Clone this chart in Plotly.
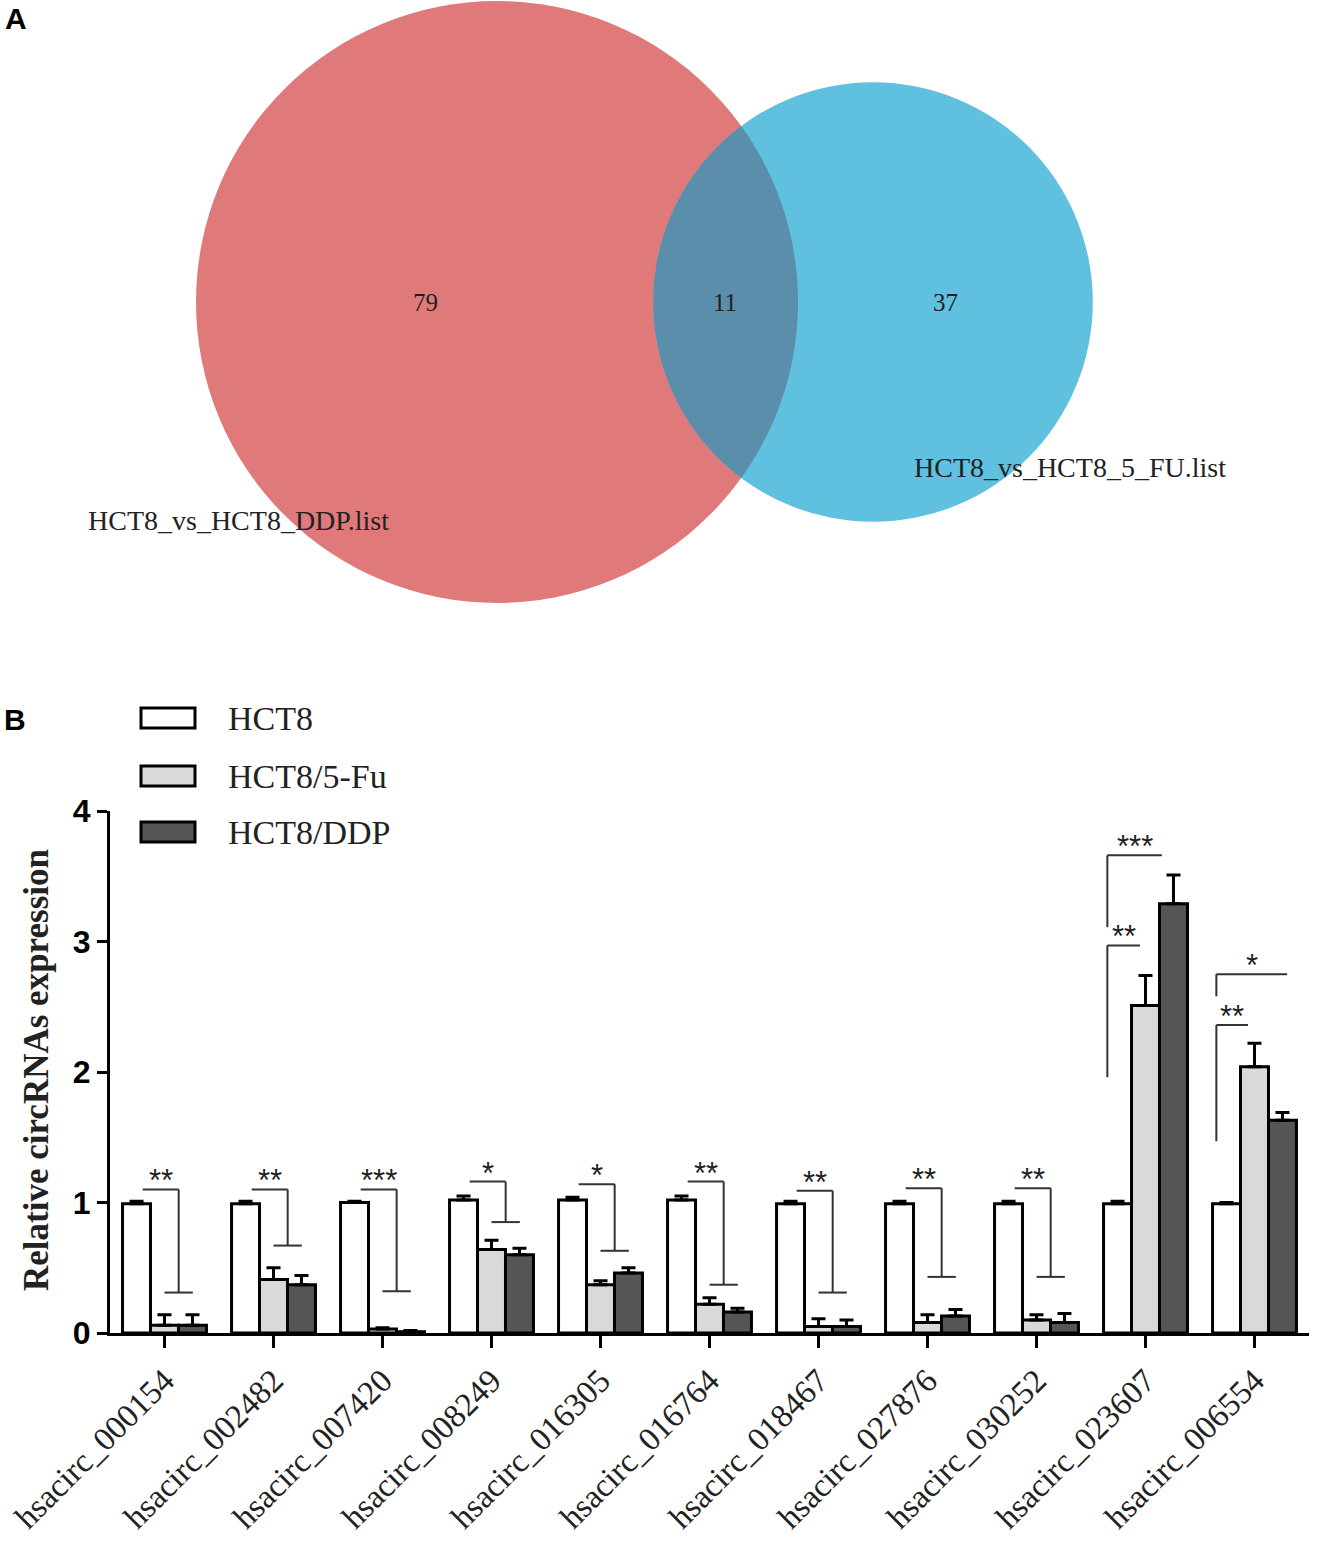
"""Venn overlap of circRNA lists (A) and qPCR validation bar chart (B)."""

import numpy as np
import plotly.graph_objects as go

W, H = 1328, 1547

# ---- Panel A data: Venn counts
venn_sets = ["HCT8_vs_HCT8_DDP.list", "HCT8_vs_HCT8_5_FU.list"]
only_ddp = 79
shared = 11
only_5fu = 37

# ---- Panel B data
circ_ids = [
    "hsacirc_000154", "hsacirc_002482", "hsacirc_007420", "hsacirc_008249",
    "hsacirc_016305", "hsacirc_016764", "hsacirc_018467", "hsacirc_027876",
    "hsacirc_030252", "hsacirc_023607", "hsacirc_006554",
]
groups = ["HCT8", "HCT8/5-Fu", "HCT8/DDP"]
hct8 = [0.99, 0.99, 1.00, 1.02, 1.02, 1.02, 0.99, 0.99, 0.99, 0.99, 0.99]
hct8_err = [0.02, 0.02, 0.01, 0.03, 0.02, 0.03, 0.02, 0.02, 0.02, 0.02, 0.01]
fu = [0.06, 0.41, 0.03, 0.64, 0.37, 0.22, 0.05, 0.08, 0.10, 2.51, 2.04]
fu_err = [0.08, 0.09, 0.01, 0.07, 0.03, 0.05, 0.06, 0.06, 0.04, 0.23, 0.18]
ddp = [0.06, 0.37, 0.01, 0.60, 0.46, 0.16, 0.05, 0.13, 0.08, 3.29, 1.63]
ddp_err = [0.08, 0.07, 0.01, 0.05, 0.04, 0.03, 0.05, 0.05, 0.07, 0.22, 0.06]

# single brackets (groups 0-8): top, bottom, label
sig_top = [1.10, 1.10, 1.10, 1.16, 1.14, 1.16, 1.09, 1.11, 1.11]
sig_bottom = [0.31, 0.67, 0.32, 0.85, 0.63, 0.37, 0.31, 0.43, 0.43]
sig_label = ["**", "**", "***", "*", "*", "**", "**", "**", "**"]

# double brackets (groups 9, 10): group, top, bottom, label
pair_group = [9, 9, 10, 10]
pair_top = [3.66, 2.97, 2.75, 2.36]
pair_bottom = [3.11, 1.96, 2.58, 1.47]
pair_label = ["***", "**", "*", "**"]
pair_right = [0.15, -0.05, 0.30, -0.06]

fill_colors = ["#FFFFFF", "#D9D9D9", "#555555"]
SERIF = "Liberation Serif"
SANS = "Liberation Sans"


def px(x):
    return x / W


def py(y):
    return 1 - y / H


fig = go.Figure()

# ---------------- Panel B bars
for name, vals, errs, col in zip(groups, [hct8, fu, ddp], [hct8_err, fu_err, ddp_err], fill_colors):
    fig.add_trace(go.Bar(
        x=list(range(len(circ_ids))), y=vals, name=name,
        marker=dict(color=col, line=dict(color="black", width=3)),
        error_y=dict(type="data", symmetric=False, array=errs,
                     arrayminus=[0] * len(errs), color="black", thickness=3, width=7),
        showlegend=False,
    ))

shapes = []
annotations = []
BR = dict(color="#333333", width=2)
STAR = dict(family=SANS, size=31, color="#222")

for i, (top, bot, lab) in enumerate(zip(sig_top, sig_bottom, sig_label)):
    xl, xv = i - 0.20, i + 0.13
    shapes.append(dict(type="line", xref="x", yref="y", x0=xl, x1=xv, y0=top, y1=top, line=BR))
    shapes.append(dict(type="line", xref="x", yref="y", x0=xv, x1=xv, y0=top, y1=bot, line=BR))
    shapes.append(dict(type="line", xref="x", yref="y", x0=xv - 0.13, x1=xv + 0.13, y0=bot, y1=bot, line=BR))
    annotations.append(dict(xref="x", yref="y", x=(xl + xv) / 2, y=top, text=lab, showarrow=False,
                            yanchor="bottom", yshift=-11, font=STAR))

for g, top, bot, lab, r in zip(pair_group, pair_top, pair_bottom, pair_label, pair_right):
    xv = g - 0.35
    xr = g + r
    shapes.append(dict(type="line", xref="x", yref="y", x0=xv, x1=xr, y0=top, y1=top, line=BR))
    shapes.append(dict(type="line", xref="x", yref="y", x0=xv, x1=xv, y0=top, y1=bot, line=BR))
    annotations.append(dict(xref="x", yref="y", x=(xv + xr) / 2, y=top, text=lab, showarrow=False,
                            yanchor="bottom", yshift=-11, font=STAR))

# ---------------- Panel B legend (drawn by hand for wide swatches)
leg_y = [718, 776, 832]
for name, col, yc in zip(groups, fill_colors, leg_y):
    shapes.append(dict(type="rect", xref="paper", yref="paper",
                       x0=px(141), x1=px(195), y0=py(yc - 10), y1=py(yc + 10),
                       fillcolor=col, line=dict(color="black", width=3)))
    annotations.append(dict(xref="paper", yref="paper", x=px(226), y=py(yc), text=name,
                            showarrow=False, xanchor="left", yanchor="middle",
                            font=dict(family=SERIF, size=34, color="#222")))

annotations.append(dict(xref="paper", yref="paper", x=px(36), y=py(1070),
                        text="<b>Relative circRNAs expression</b>", textangle=-90,
                        showarrow=False, xanchor="center", yanchor="middle",
                        font=dict(family=SERIF, size=35, color="#222")))

# ---------------- Panel A: Venn diagram (pixel-mapped axes x2/y2)
k = 301 / np.sqrt(only_ddp + shared)
r1 = k * np.sqrt(only_ddp + shared)
r2 = k * np.sqrt(only_5fu + shared)
c1 = (497, 302)
c2 = (873, 302)
d = c2[0] - c1[0]
a = (d ** 2 + r1 ** 2 - r2 ** 2) / (2 * d)
h = np.sqrt(r1 ** 2 - a ** 2)
t1 = np.arctan2(h, a)
t2 = np.arctan2(h, d - a)

shapes.append(dict(type="circle", xref="x2", yref="y2", x0=c1[0] - r1, x1=c1[0] + r1,
                   y0=c1[1] - r1, y1=c1[1] + r1, fillcolor="#E07A7A", line=dict(width=0), layer="below"))
shapes.append(dict(type="circle", xref="x2", yref="y2", x0=c2[0] - r2, x1=c2[0] + r2,
                   y0=c2[1] - r2, y1=c2[1] + r2, fillcolor="#60C0E0", line=dict(width=0), layer="below"))
ang1 = np.linspace(-t1, t1, 80)
ang2 = np.linspace(np.pi - t2, np.pi + t2, 80)
pts = [(c1[0] + r1 * np.cos(t), c1[1] + r1 * np.sin(t)) for t in ang1]
pts += [(c2[0] + r2 * np.cos(t), c2[1] - r2 * np.sin(t)) for t in ang2]
path = "M " + " L ".join(f"{x:.2f},{y:.2f}" for x, y in pts) + " Z"
shapes.append(dict(type="path", xref="x2", yref="y2", path=path, fillcolor="#5B8EAB",
                   line=dict(width=0), layer="below"))

for txt, x, y in [(str(only_ddp), 425, 302), (str(shared), 725, 302), (str(only_5fu), 945, 302)]:
    annotations.append(dict(xref="x2", yref="y2", x=x, y=y, text=txt, showarrow=False,
                            font=dict(family=SERIF, size=25, color="#222")))
annotations.append(dict(xref="x2", yref="y2", x=238, y=520, text=venn_sets[0], showarrow=False,
                        font=dict(family=SERIF, size=28, color="#222")))
annotations.append(dict(xref="x2", yref="y2", x=1070, y=467, text=venn_sets[1], showarrow=False,
                        font=dict(family=SERIF, size=28, color="#222")))

# panel letters
annotations.append(dict(xref="paper", yref="paper", x=px(3), y=py(19), text="<b>A</b>",
                        showarrow=False, xanchor="left", yanchor="middle",
                        font=dict(family=SANS, size=30, color="black")))
annotations.append(dict(xref="paper", yref="paper", x=px(2), y=py(719), text="<b>B</b>",
                        showarrow=False, xanchor="left", yanchor="middle",
                        font=dict(family=SANS, size=30, color="black")))

fig.update_layout(
    width=W, height=H,
    margin=dict(l=0, r=0, t=0, b=0),
    paper_bgcolor="white", plot_bgcolor="rgba(0,0,0,0)",
    barmode="group", bargap=0.23, bargroupgap=0,
    shapes=shapes, annotations=annotations,
    xaxis=dict(domain=[px(110), px(1309)], range=[-0.5, 10.5],
               tickvals=list(range(len(circ_ids))), ticktext=circ_ids, tickangle=-45,
               tickfont=dict(family=SERIF, size=33, color="#222"),
               showline=True, linecolor="black", linewidth=3,
               ticks="outside", ticklen=12, tickwidth=3, tickcolor="black",
               showgrid=False, zeroline=False, automargin=False, fixedrange=True),
    yaxis=dict(domain=[py(1333), py(811)], range=[0, 4], tickvals=[0, 1, 2, 3, 4],
               tickfont=dict(family=SANS, size=32, color="black", weight="bold"),
               showline=True, linecolor="black", linewidth=3,
               ticks="outside", ticklen=10, tickwidth=3, tickcolor="black",
               showgrid=False, zeroline=False, automargin=False, fixedrange=True),
    xaxis2=dict(domain=[0, 1], range=[0, W], visible=False, anchor="y2", fixedrange=True),
    yaxis2=dict(domain=[py(640), 1], range=[640, 0], visible=False, anchor="x2", fixedrange=True),
)

fig.write_html("out.html", config={"displayModeBar": False},
               post_script="document.body.style.margin='0';")
